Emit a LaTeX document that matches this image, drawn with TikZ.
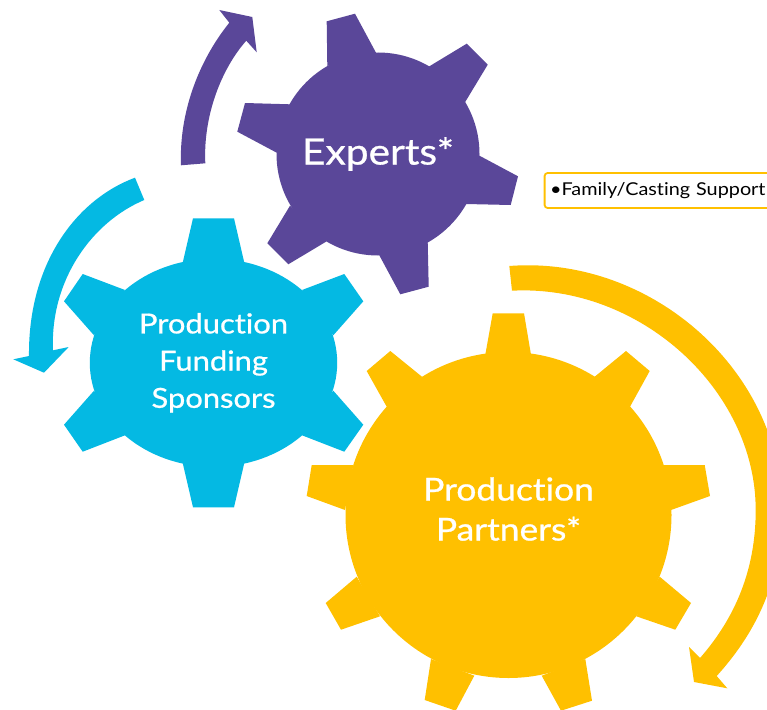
\documentclass[tikz,border=0pt]{standalone}
\usepackage{fontspec}
\setmainfont[Ligatures=NoCommon, FakeStretch=1.12]{Lato}
\newfontfamily\gearfont[Ligatures=NoCommon, FakeStretch=1.12, FakeBold=0.8]{Lato}
\usetikzlibrary{shapes, positioning}
\definecolor{expertspurple}{HTML}{5A4799}
\definecolor{sponsorblue}{HTML}{04B9E3}
\definecolor{partneryellow}{HTML}{FFC000}
\tikzstyle{gearbody} = [inner sep=0pt, text=white, align=center]
\tikzstyle{expertsgear} = [gearbody, circle, fill=expertspurple, minimum size=203pt, font=\gearfont\fontsize{36.3}{40}\selectfont]
\tikzstyle{sponsorgear} = [gearbody, ellipse, fill=sponsorblue, minimum width=247.4pt, minimum height=208pt, font=\gearfont\fontsize{27.6}{37.2}\selectfont]
\tikzstyle{partnergear} = [gearbody, circle, fill=partneryellow, minimum size=326pt]
\tikzstyle{partnerlabel} = [gearbody, font=\gearfont\fontsize{31.6}{40}\selectfont]
\tikzstyle{supportbox} = [draw=partneryellow, line width=1.8pt, rounded corners=3pt, fill=white, inner sep=0pt, minimum height=35pt, text=black, font=\fontsize{17.7}{20}\selectfont]

\begin{document}
\begin{tikzpicture}[x=1pt, y=-1pt]
	\useasboundingbox (0,0) rectangle (767,709);
	\clip (0,0) rectangle (767,709);
	% arrows
	\fill[expertspurple] (181,165.3) .. controls (179,115) and (197,63) .. (229.3,22.7) -- (219.3,10) -- (252.3,17) -- (256.7,52.3) -- (246.3,40.7)
		.. controls (222,68) and (203,115) .. (205.3,163.3) -- cycle;
	\fill[sponsorblue] (135,177.7) .. controls (75,200) and (28,265) .. (29,356) -- (13.3,359.3) -- (44,372.7) -- (68.7,347) -- (53,350.3)
		.. controls (50,280) and (92,222) .. (144.3,200) -- cycle;
	\fill[partneryellow] (509.3,266) .. controls (650,255) and (782,370) .. (782,510) .. controls (782,585) and (752,637) .. (716.7,676)
		-- (727.3,688.3) -- (694,682) -- (689,647) -- (700,658)
		.. controls (735,618) and (755.7,570) .. (755.7,510) .. controls (755.7,390) and (640,284) .. (512,290.7) -- cycle;
	% teeth
	\fill[expertspurple] (327.3,66) -- (326.7,21.3) -- (355,13.7) -- (376,52.7) -- cycle
		(428.7,66.7) -- (466.7,43.7) -- (487.7,64.7) -- (465,102.3) -- cycle
		(478.7,155.3) -- (518,176.3) -- (510.7,205) -- (465.7,204) -- cycle
		(427.7,241.7) -- (428.7,286.7) -- (400.3,294.3) -- (379.3,255.3) -- cycle
		(326.7,241.3) -- (288.3,264.3) -- (267.3,243.3) -- (290,205.7) -- cycle
		(276.7,152.7) -- (237.3,131.7) -- (245,103) -- (290,104.3) -- cycle;
	\fill[sponsorblue] (182.7,262.7) -- (193,218.3) -- (234,218.3) -- (244.3,262.7) -- cycle
		(302,290) -- (344.3,274) -- (363.3,301.3) -- (333.3,335.3) -- cycle
		(333.3,390.7) -- (363.3,424.7) -- (344.3,451.7) -- (302,435.3) -- cycle
		(244.3,463) -- (234,507.3) -- (193,507.3) -- (182.7,463) -- cycle
		(125,435.3) -- (82.7,451.7) -- (64,424.7) -- (94,390.7) -- cycle
		(94,335.3) -- (64,301.3) -- (82.7,274) -- (125,290) -- cycle;
	\fill[partneryellow] (485.3,354.7) -- (492.7,313.3) -- (524,313.3) -- (531,354.7) -- cycle
		(594.3,377) -- (626,351) -- (649.7,371) -- (630,406.7) -- cycle
		(663,465) -- (704.7,465) -- (710,496) -- (671,510) -- cycle
		(659.7,576.7) -- (691,603) -- (675.3,629.7) -- (636.3,616.3) -- cycle
		(585.3,659) -- (592,700.7) -- (561,710.7) -- (541.7,675.7) -- cycle
		(474.3,675.7) -- (455.7,710.7) -- (424.7,700) -- (431,659) -- cycle
		(380,616.3) -- (341,629.7) -- (325.7,603) -- (356.7,576.7) -- cycle
		(345,510) -- (306.7,496) -- (311.7,465) -- (353.3,465) -- cycle
		(386.7,406.7) -- (366.7,371) -- (390.3,351) -- (422.3,377) -- cycle;
	% gears
	\node[expertsgear] (experts) at (378,154) {Experts*};
	\node[sponsorgear] (sponsors) at (213.5,362.8) {Production\\Funding\\Sponsors};
	\node[partnergear] (partners) at (508.5,515) {};
	\node[partnerlabel] (partnerstext) at (508.5,509) {Production\\Partners*};
	\node[supportbox, anchor=west, minimum width=240pt, align=left, text width=232pt, inner xsep=4pt] (support) at (543.7,190.5) {\hspace{1.5pt}\raisebox{-2pt}{•Family/Casting Support}};
\end{tikzpicture}
\end{document}
